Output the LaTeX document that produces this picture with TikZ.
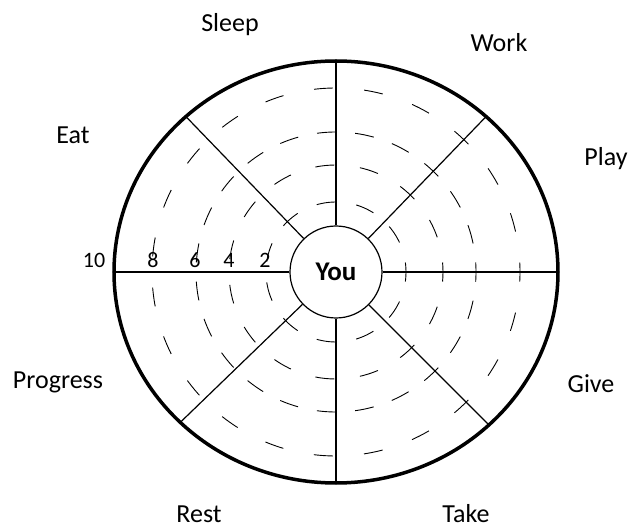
\documentclass[tikz,border=0pt]{standalone}
\usepackage{fontspec}
\setmainfont{Carlito}
\usetikzlibrary{positioning}

\begin{document}
\begin{tikzpicture}[
    x=1pt, y=1pt,
    spoke/.style={line width=1.2pt},
    ring/.style={line width=0.9pt},
    area/.style={font=\fontsize{26}{30}\selectfont, anchor=base},
    num/.style={font=\fontsize{22}{26}\selectfont, anchor=base}
]
\useasboundingbox (-336,-255) rectangle (307,272);
\node[circle, draw, line width=1.2pt, minimum size=92pt, inner sep=0pt, font=\fontsize{27}{31}\selectfont\bfseries] (you) at (0,0) {You};
\foreach \r/\n in {70/11, 107/15, 140/23, 184/23}{
    \pgfmathsetmacro\gap{2*pi*\r/\n-19}
    \draw[ring, dash pattern=on 19pt off \gap pt, dash phase=9.5pt] (0,0) circle [radius=\r];
}
\foreach \a in {0,46,90,134,180,224,270,315}{
    \pgfmathsetmacro\rr{10*22.2*21.1/sqrt((21.1*cos(\a))^2+(22.2*sin(\a))^2)}
    \coordinate (rim\a) at (\a:\rr);
    \draw[spoke] (you.\a) -- (rim\a);
}
\draw[line width=3.5pt] (0,0) ellipse [x radius=222, y radius=211];
\node[area] (sleep) at (-106,240) {Sleep};
\node[area] (work) at (163,220) {Work};
\node[area] (play) at (270,106) {Play};
\node[area] (eat) at (-263,128) {Eat};
\node[area] (progress) at (-278,-117) {Progress};
\node[area] (give) at (255,-121) {Give};
\node[area] (rest) at (-137,-250) {Rest};
\node[area] (take) at (130,-250) {Take};
\node[num] (n10) at (-242,4) {10};
\node[num] (n8) at (-183,4) {8};
\node[num] (n6) at (-141,4) {6};
\node[num] (n4) at (-107,4) {4};
\node[num] (n2) at (-71,4) {2};
\end{tikzpicture}
\end{document}
